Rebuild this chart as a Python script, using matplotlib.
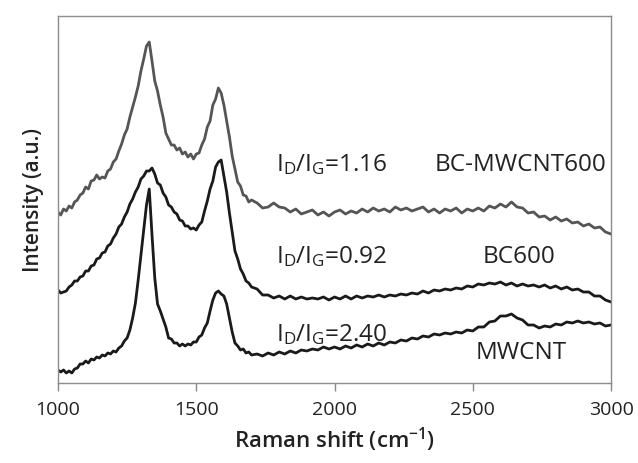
import numpy as np
import matplotlib
matplotlib.use("Agg")
import matplotlib.pyplot as plt

# Raman shift sampling (cm-1): fine over the D/G bands, coarser above 1700
raman_shift = np.concatenate([np.arange(1000, 1700, 10), np.arange(1700, 3001, 20)])

# intensities (a.u., curves already offset)
bc_mwcnt600 = [
    171, 168, 174, 172, 177, 175, 181, 183, 188, 190,
    196, 194, 202, 203, 208, 204, 206, 205, 212, 214,
    221, 224, 232, 239, 248, 254, 266, 276, 286, 297,
    312, 324, 337, 341, 322, 302, 292, 278, 266, 250,
    244, 238, 238, 233, 235, 229, 231, 226, 229, 224,
    229, 230, 238, 244, 256, 262, 278, 284, 295, 290,
    278, 262, 246, 227, 214, 201, 197, 188, 187, 181, 183,
    180, 175, 176, 180, 176, 175, 171, 174, 169, 171,
    173, 168, 171, 167, 171, 173, 169, 172, 170, 174,
    171, 175, 172, 174, 171, 176, 173, 175, 172, 174,
    176, 171, 174, 170, 174, 172, 175, 170, 174, 172,
    175, 172, 177, 175, 179, 176, 181, 176, 175, 170,
    171, 166, 167, 163, 166, 162, 164, 160, 161, 157,
    159, 155, 156, 151, 149,
]
bc600 = [
    93, 90, 91, 92, 96, 98, 102, 102, 106, 107,
    112, 112, 117, 118, 124, 125, 130, 131, 137, 139,
    145, 149, 156, 159, 166, 171, 179, 184, 191, 196,
    204, 207, 212, 212, 215, 209, 200, 198, 190, 186,
    178, 176, 171, 169, 163, 162, 157, 157, 154, 155,
    153, 158, 161, 172, 182, 194, 202, 216, 221, 223,
    207, 191, 170, 151, 132, 124, 114, 109, 102, 100, 96,
    94, 88, 88, 85, 87, 84, 87, 84, 86, 84,
    85, 84, 86, 83, 86, 84, 87, 84, 87, 85,
    87, 86, 88, 86, 88, 87, 89, 88, 90, 89,
    92, 90, 93, 92, 94, 93, 95, 94, 97, 96,
    99, 98, 100, 99, 101, 98, 100, 97, 99, 97,
    98, 96, 98, 95, 97, 94, 96, 93, 94, 91,
    91, 87, 87, 83, 81,
]
mwcnt = [
    13, 11, 13, 10, 12, 10, 14, 15, 19, 19,
    22, 20, 24, 23, 26, 25, 28, 27, 30, 29,
    32, 31, 35, 37, 42, 45, 53, 65, 80, 103,
    128, 153, 178, 194, 148, 105, 79, 72, 64, 56,
    45, 44, 40, 40, 37, 39, 37, 39, 38, 41,
    41, 46, 48, 55, 60, 72, 83, 90, 92, 89,
    87, 79, 65, 51, 40, 37, 33, 34, 30, 31, 28,
    29, 27, 30, 28, 31, 29, 32, 30, 33, 32,
    34, 33, 36, 34, 36, 34, 37, 35, 38, 36,
    39, 37, 40, 38, 41, 40, 43, 42, 45, 44,
    47, 46, 49, 48, 50, 49, 51, 50, 53, 52,
    56, 56, 61, 62, 67, 67, 69, 65, 63, 58,
    58, 55, 57, 56, 59, 58, 61, 60, 62, 60,
    61, 59, 60, 57, 58,
]

ratio_labels = ["1.16", "0.92", "2.40"]
sample_names = ["BC-MWCNT600", "BC600", "MWCNT"]

plt.rcParams['font.family'] = ['Open Sans', 'DejaVu Sans']
plt.rcParams['mathtext.default'] = 'regular'

fig = plt.figure(figsize=(6.38, 4.63), dpi=100)
ax = fig.add_axes([0.0909, 0.1728, 0.8668, 0.7926])

ax.plot(raman_shift, bc_mwcnt600, color='#555555', linewidth=2.0)
ax.plot(raman_shift, bc600, color='#1a1a1a', linewidth=2.0)
ax.plot(raman_shift, mwcnt, color='#1a1a1a', linewidth=2.0)

ax.set_xlim(1000, 3000)
ax.set_ylim(0, 367)
ax.set_xticks([1000, 1500, 2000, 2500, 3000])
ax.set_yticks([])
ax.tick_params(axis='x', direction='out', length=6, width=1, color='#888888',
               labelsize=14, labelcolor='#222222', pad=7)
for sp in ax.spines.values():
    sp.set_color('#8c8c8c')
    sp.set_linewidth(1)

ax.set_xlabel('Raman shift (cm$^{-1}$)', fontsize=16, fontweight='semibold',
              color='#222222', labelpad=5)
ax.set_ylabel('Intensity (a.u.)', fontsize=15, fontweight='semibold',
              color='#222222', labelpad=10)

# annotations: ratio text on the left, sample name on the right
ratio_pos = [(1790, 218), (1790, 126), (1790, 48)]
name_pos = [(2985, 218), (2667, 126), (2675, 30)]
for r, (x, y) in zip(ratio_labels, ratio_pos):
    ax.text(x, y, 'I$_D$/I$_G$=' + r, fontsize=17.5, color='#222222',
            ha='left', va='center')
for n, (x, y), ha in zip(sample_names, name_pos, ['right', 'center', 'center']):
    ax.text(x, y, n, fontsize=17.5, color='#222222', ha=ha, va='center')

plt.savefig('out.png', dpi=100)
